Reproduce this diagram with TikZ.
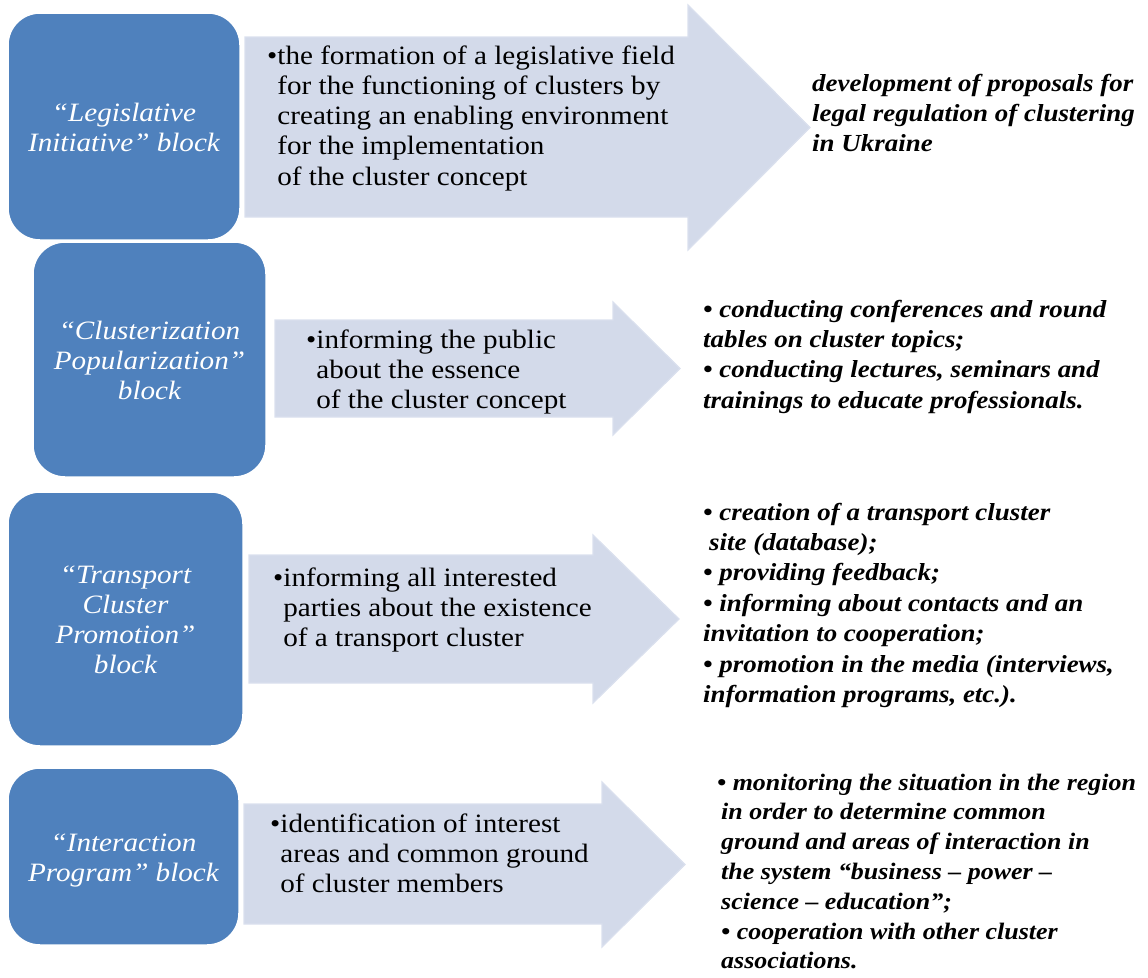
\documentclass[tikz,border=0pt]{standalone}
\usepackage{fontspec}
\setmainfont{Liberation Serif}[FakeStretch=1.1]

\definecolor{blockblue}{HTML}{4F81BD}
\definecolor{arrowfill}{HTML}{D3DAEA}
\definecolor{arrowedge}{HTML}{DAE0EE}

% stacked lines, first baseline is the node's base
\newcommand{\leftlines}[1]{\begin{tabular}[t]{@{}l@{}}#1\end{tabular}}
% centred lines, set a little low in their block without changing its size
\newcommand{\centerlines}[1]{\raisebox{-3.5pt}[\height][\depth]{\begin{tabular}{@{}c@{}}#1\end{tabular}}}
\newcommand{\hang}{\hphantom{•}}

% broad arrow: left, body top, body bottom, head x, head top, head bottom, tip x, tip y
\newcommand{\broadarrow}[8]{%
  \path[arrowbody] (#1,#2) -- (#4,#2) -- (#4,#5) -- (#7,#8) -- (#4,#6) -- (#4,#3) -- (#1,#3) -- cycle;}

\tikzset{
  blockbox/.style={rectangle, rounded corners=32pt, fill=blockblue, draw=white,
    line width=1.5pt, inner sep=0pt, text=white,
    font={\fontsize{26.5}{30}\selectfont\itshape}},
  arrowbody/.style={fill=arrowfill, draw=arrowedge, line width=1.2pt},
  arrowtext/.style={anchor=base west, inner sep=0pt,
    font={\fontsize{26.5}{30.25}\selectfont}},
  resulttext/.style={anchor=base west, inner sep=0pt,
    font={\fontsize{24.5}{30.4}\selectfont\bfseries\itshape}}
}

\begin{document}
\begin{tikzpicture}[x=1pt, y=-1pt]
\useasboundingbox (0,0) rectangle (1148,977);

% ---------- arrows ----------
\broadarrow{245}{37}{217}{688}{5}{250}{810}{127.5}
\broadarrow{275}{320}{417}{613}{302}{435}{680}{368.5}
\broadarrow{249}{555}{683}{593}{535}{703}{679}{619}
\broadarrow{244}{804}{924}{602}{782}{947}{685}{864.5}

% ---------- blocks ----------
\node[blockbox, minimum width=232pt, minimum height=227pt] (b1) at (124,126.5)
  {\centerlines{“Legislative\\ Initiative” block}};
\node[blockbox, minimum width=233pt, minimum height=235pt] (b2) at (149.5,359.5)
  {\centerlines{“Clusterization\\ Popularization”\\ block}};
\node[blockbox, minimum width=235pt, minimum height=254pt] (b3) at (125.5,619)
  {\centerlines{“Transport\\ Cluster\\ Promotion”\\ block}};
\node[blockbox, minimum width=231pt, minimum height=177pt] (b4) at (123.5,856.5)
  {\centerlines{“Interaction\\ Program” block}};

% ---------- arrow texts ----------
\node[arrowtext] (a1) at (267,64) {\leftlines{•the formation of a legislative field\\
  \hang for the functioning of clusters by\\
  \hang creating an enabling environment\\
  \hang for the implementation\\
  \hang of the cluster concept}};
\node[arrowtext] (a2) at (306,348) {\leftlines{•informing the public\\
  \hang about the essence\\
  \hang of the cluster concept}};
\node[arrowtext] (a3) at (273,586) {\leftlines{•informing all interested\\
  \hang parties about the existence\\
  \hang of a transport cluster}};
\node[arrowtext] (a4) at (270,832) {\leftlines{•identification of interest\\
  \hang areas and common ground\\
  \hang of cluster members}};

% ---------- results ----------
\node[resulttext] (r1) at (812,91) {\leftlines{development of proposals for\\
  legal regulation of clustering\\
  in Ukraine}};
\node[resulttext] (r2) at (703,317) {\leftlines{• conducting conferences and round\\
  tables on cluster topics;\\
  • conducting lectures, seminars and\\
  trainings to educate professionals.}};
\node[resulttext] (r3) at (703,520) {\leftlines{• creation of a transport cluster\\
  \hspace{6pt}site (database);\\
  • providing feedback;\\
  • informing about contacts and an\\
  invitation to cooperation;\\
  • promotion in the media (interviews,\\
  information programs, etc.).}};
\node[resulttext, font={\fontsize{23.6}{29.8}\selectfont\bfseries\itshape}] (r4) at (717,790)
  {\leftlines{• monitoring the situation in the region\\
  \hspace{4pt}in order to determine common\\
  \hspace{4pt}ground and areas of interaction in\\
  \hspace{4pt}the system “business – power –\\
  \hspace{4pt}science – education”;\\
  \hspace{4pt}• cooperation with other cluster\\
  \hspace{4pt}associations.}};
\end{tikzpicture}
\end{document}
